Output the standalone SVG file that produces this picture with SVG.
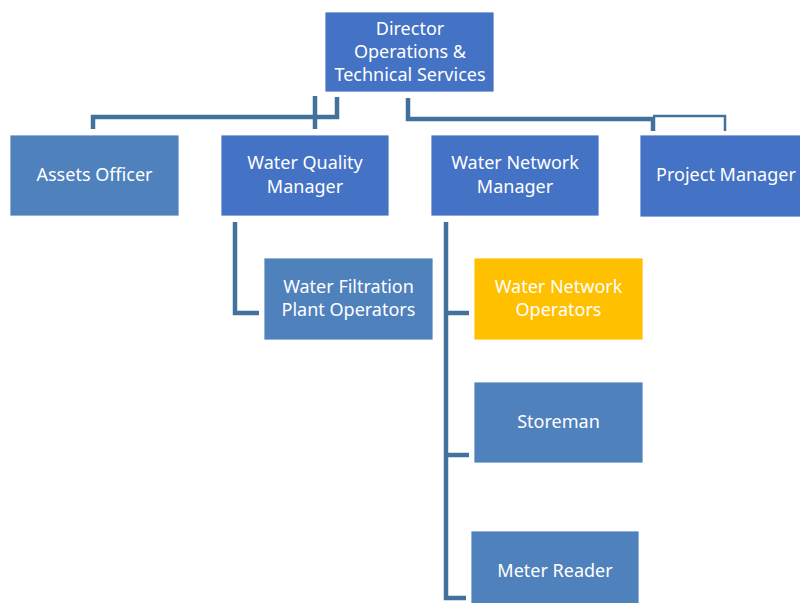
<svg xmlns="http://www.w3.org/2000/svg" width="800" height="603" viewBox="0 0 800 603">
<style>
.n{stroke:#ffffff;stroke-width:0.8}
.a{fill:#4472C4}
.b{fill:#4F81BD}
.y{fill:#FFC000}
text{font-family:"Noto Sans","Open Sans","DejaVu Sans",sans-serif;font-size:18px;fill:#ffffff;text-anchor:middle}
.c{fill:none;stroke:#41719C;stroke-width:4.5}
.t{fill:none;stroke:#41719C;stroke-width:2.5}
</style>
<rect width="800" height="603" fill="#ffffff"/>
<g id="connectors">
<polyline class="c" points="337,97 337,117 93,117 93,129"/>
<polyline class="c" points="315,96 315,129"/>
<polyline class="c" points="408,98 408,119 653,119 653,131"/>
<polyline class="t" points="653,116 725,116 725,131"/>
<polyline class="c" points="235,222 235,313 259,313"/>
<polyline class="c" points="446,222 446,598 466,598"/>
<polyline class="c" points="446,313 469,313"/>
<polyline class="c" points="446,455 469,455"/>
</g>
<g id="director">
<rect class="n a" x="325" y="12" width="169" height="80"/>
<text x="410" y="35">Director</text>
<text x="410" y="58">Operations &amp;</text>
<text x="410" y="81">Technical Services</text>
</g>
<g id="assets-officer">
<rect class="n b" x="10" y="135" width="169" height="81"/>
<text x="94.5" y="181">Assets Officer</text>
</g>
<g id="water-quality-manager">
<rect class="n a" x="221" y="135" width="168" height="81"/>
<text x="305" y="169">Water Quality</text>
<text x="305" y="193">Manager</text>
</g>
<g id="water-network-manager">
<rect class="n a" x="431" y="135" width="168" height="81"/>
<text x="515" y="169">Water Network</text>
<text x="515" y="193">Manager</text>
</g>
<g id="project-manager">
<rect class="n a" x="640" y="135" width="162" height="82"/>
<text x="726" y="181">Project Manager</text>
</g>
<g id="water-filtration-plant-operators">
<rect class="n b" x="264" y="258" width="169" height="82"/>
<text x="348.5" y="293">Water Filtration</text>
<text x="348.5" y="316">Plant Operators</text>
</g>
<g id="water-network-operators">
<rect class="n y" x="474" y="258" width="169" height="82"/>
<text x="558.5" y="293">Water Network</text>
<text x="558.5" y="316">Operators</text>
</g>
<g id="storeman">
<rect class="n b" x="474" y="382" width="169" height="81"/>
<text x="558.5" y="428">Storeman</text>
</g>
<g id="meter-reader">
<rect class="n b" x="471" y="531" width="168" height="73"/>
<text x="555" y="577">Meter Reader</text>
</g>
</svg>
